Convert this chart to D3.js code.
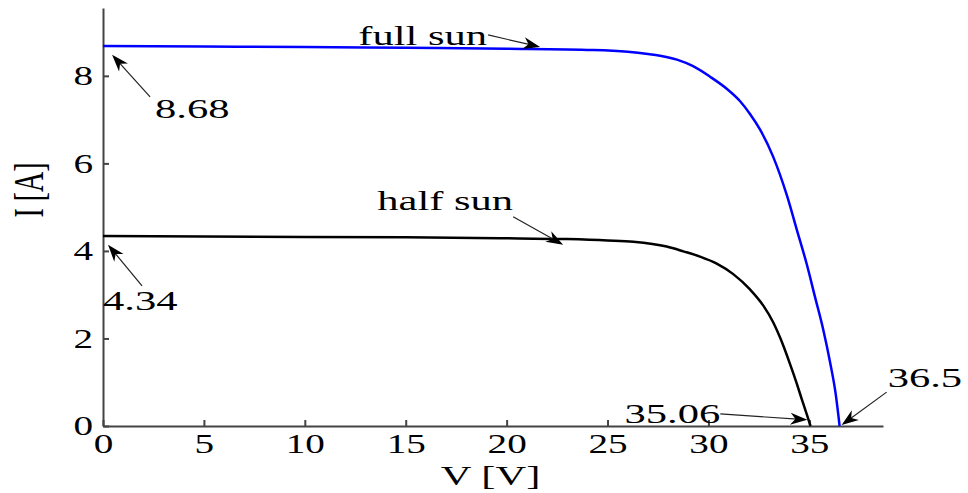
<!DOCTYPE html>
<html>
<head>
  <meta charset="utf-8">
  <script src="https://d3js.org/d3.v7.min.js"></script>
  <style>
    body { margin: 0; background: white; }
    svg { display: block; }
    text { font-family: "Liberation Serif", "Times New Roman", serif; fill: #000; }
    .axis .domain, .axis line { stroke: #444; stroke-width: 2px; }
  </style>
</head>
<body>
  <svg id="chart" width="968" height="493"></svg>
  <script>
    // values
    const fullV = [0, 5, 10, 15, 20, 24.3, 26, 27, 27.6, 28.44, 29.24, 30.08, 30.92, 31.57, 32.06, 32.56, 33.2, 33.9, 34.37, 34.87, 35.28, 35.69, 36.03, 36.3, 36.5];
    const fullI = [8.68, 8.67, 8.66, 8.64, 8.62, 8.59, 8.55, 8.5, 8.46, 8.37, 8.22, 7.98, 7.7, 7.42, 7.13, 6.77, 6.16, 5.25, 4.5, 3.7, 2.95, 2.2, 1.45, 0.75, 0];
    const halfV = [0, 5, 10, 15, 19.67, 22.98, 25, 26.28, 27.93, 28.76, 29.58, 30.41, 31.23, 32.06, 32.72, 33.22, 33.55, 34.04, 34.37, 34.62, 34.87, 35.06];
    const halfI = [4.34, 4.33, 4.32, 4.31, 4.29, 4.27, 4.24, 4.21, 4.1, 3.99, 3.87, 3.71, 3.47, 3.12, 2.75, 2.36, 2.02, 1.42, 0.98, 0.62, 0.27, 0];
    const xTicks = [0, 5, 10, 15, 20, 25, 30, 35];
    const yTicks = [0, 2, 4, 6, 8];

    // annotations: arrow tip in data units, tail/label offsets in px
    const notes = [
      { label: "8.68",     v: 0.45,  i: 8.48, tail: [38, 42],   text: [43, 63],  anchor: "start" },
      { label: "4.34",     v: 0.25,  i: 4.14, tail: [34, 41],   text: [-5, 65],  anchor: "start" },
      { label: "full sun", v: 21.66, i: 8.66, tail: [-52, -12], text: [-53, -2], anchor: "end" },
      { label: "half sun", v: 22.8,  i: 4.14, tail: [-50, -28], text: [-50, -35], anchor: "end" },
      { label: "35.06",    v: 34.9,  i: 0.14, tail: [-87, -6],  text: [-87, 3],  anchor: "end" },
      { label: "36.5",     v: 36.6,  i: 0.02, tail: [45, -33],  text: [46, -38], anchor: "start" }
    ];

    const svg = d3.select("#chart");
    const stretch = 1.52;  // the reference text is wide
    const serif = '"Liberation Serif", "Times New Roman", serif';

    const x = d3.scaleLinear().domain([0, 38.65]).range([103, 883]);
    const y = d3.scaleLinear().domain([0, 9.55]).range([426, 8]);

    // axes, ticks pointing in
    svg.append("g").attr("class", "axis")
      .attr("transform", "translate(0,426)")
      .call(d3.axisBottom(x).tickValues(xTicks).tickSizeInner(-6).tickSizeOuter(0).tickPadding(7));
    svg.append("g").attr("class", "axis")
      .attr("transform", "translate(103,0)")
      .call(d3.axisLeft(y).tickValues(yTicks).tickSizeInner(-6).tickSizeOuter(0).tickPadding(7));

    svg.selectAll(".axis").attr("font-family", null);
    svg.selectAll(".axis text")
      .style("font-family", serif)
      .attr("font-size", 28)
      .attr("fill", "#000")
      .attr("transform", "scale(1.4,1)");

    // curves
    const line = d3.line().x(d => x(d[0])).y(d => y(d[1])).curve(d3.curveMonotoneX);
    svg.append("path")
      .datum(fullV.map((v, k) => [v, fullI[k]]))
      .attr("d", line).attr("fill", "none").attr("stroke", "#0000ff").attr("stroke-width", 2.5);
    svg.append("path")
      .datum(halfV.map((v, k) => [v, halfI[k]]))
      .attr("d", line).attr("fill", "none").attr("stroke", "#000").attr("stroke-width", 2.5);

    // axis titles
    svg.append("text")
      .attr("transform", `translate(${x(19.2)},485) scale(${stretch},1)`)
      .attr("text-anchor", "middle").attr("font-size", 28).style("font-family", serif)
      .text("V [V]");
    svg.append("text")
      .attr("transform", `translate(43,190) scale(${stretch},1) rotate(-90)`)
      .attr("text-anchor", "middle").attr("font-size", 28).style("font-family", serif)
      .text("I [A]");

    // arrows with labels
    const headLen = 17, headW = 12;
    notes.forEach(n => {
      const tx = x(n.v), ty = y(n.i);
      const sx = tx + n.tail[0], sy = ty + n.tail[1];
      const len = Math.hypot(tx - sx, ty - sy);
      const ux = (tx - sx) / len, uy = (ty - sy) / len;
      const px = -uy, py = ux;

      svg.append("line")
        .attr("x1", sx).attr("y1", sy)
        .attr("x2", tx - ux * headLen * 0.6).attr("y2", ty - uy * headLen * 0.6)
        .attr("stroke", "#222").attr("stroke-width", 1.2);

      const bx = tx - ux * headLen, by = ty - uy * headLen;
      const nx = tx - ux * headLen * 0.7, ny = ty - uy * headLen * 0.7;
      svg.append("path")
        .attr("d", `M${tx},${ty}L${bx + px * headW / 2},${by + py * headW / 2}L${nx},${ny}L${bx - px * headW / 2},${by - py * headW / 2}Z`)
        .attr("fill", "#000");

      svg.append("text")
        .attr("transform", `translate(${tx + n.text[0]},${ty + n.text[1]}) scale(${stretch},1)`)
        .attr("text-anchor", n.anchor)
        .attr("font-size", 28).style("font-family", serif)
        .text(n.label);
    });
  </script>
</body>
</html>
